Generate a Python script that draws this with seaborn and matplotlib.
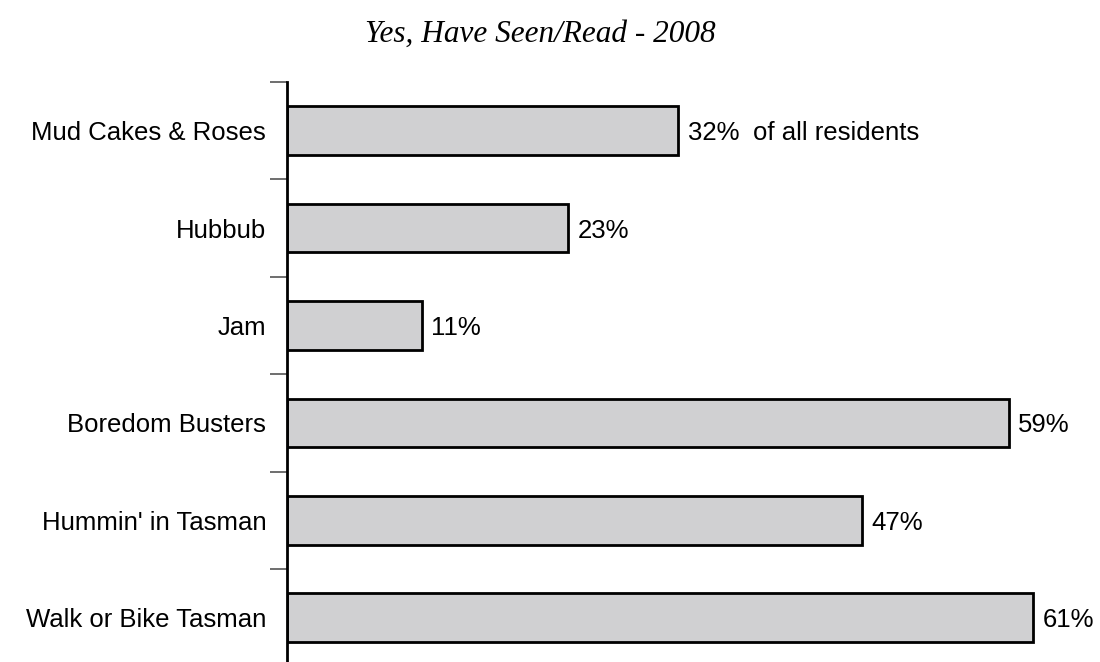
import matplotlib
matplotlib.use("Agg")
import matplotlib.pyplot as plt
import seaborn as sns
import pandas as pd
from matplotlib.ticker import FixedLocator

# Datos
categories = ["Mud Cakes & Roses", "Hubbub", "Jam", "Boredom Busters",
              "Hummin' in Tasman", "Walk or Bike Tasman"]
values = [32, 23, 11, 59, 47, 61]
value_labels = ["32%", "23%", "11%", "59%", "47%", "61%"]
note = "of all residents"
title = "Yes, Have Seen/Read - 2008"

df = pd.DataFrame({"category": categories, "value": values})

sns.set_theme(style="white")
plt.rcParams["font.family"] = ["Liberation Sans", "DejaVu Sans"]

fig = plt.figure(figsize=(11, 6.62), dpi=100)
ax = fig.add_axes([287 / 1100, 0, (1100 - 287) / 1100, (662 - 82) / 662])

sns.barplot(data=df, x="value", y="category", orient="h", width=0.5,
            color="#d0d0d2", saturation=1, edgecolor="black", linewidth=2, ax=ax)

ax.set_xlim(0, (1100 - 287) / 12.23)
ax.set_ylim(-0.5 + 580 / 97.4, -0.5)

# Etiquetas de valores
for i, (v, lab) in enumerate(zip(values, value_labels)):
    ax.annotate(lab, (v, i), xytext=(7, 0), textcoords="offset points",
                va="center_baseline", ha="left", fontsize=18.5, color="black")
ax.annotate(note, (values[0], 0), xytext=(54, 0), textcoords="offset points",
            va="center_baseline", ha="left", fontsize=18.5, color="black")

# Ejes
for s in ["top", "right", "bottom"]:
    ax.spines[s].set_visible(False)
ax.spines["left"].set_color("black")
ax.spines["left"].set_linewidth(2)
ax.set_xticks([])
ax.set_xlabel("")
ax.set_ylabel("")
ax.tick_params(axis="y", which="major", length=0, pad=15, labelsize=18.5, labelcolor="black")
ax.yaxis.set_minor_locator(FixedLocator([-0.5, 0.5, 1.5, 2.5, 3.5, 4.5]))
ax.tick_params(axis="y", which="minor", left=True, length=12, width=1.2, color="#555555")

fig.text(540 / 1100, 1 - 42 / 662, title, ha="center", va="baseline",
         fontsize=22.5, style="italic", color="black",
         family=["Liberation Serif", "DejaVu Serif"])

plt.savefig("out.png", dpi=100)
